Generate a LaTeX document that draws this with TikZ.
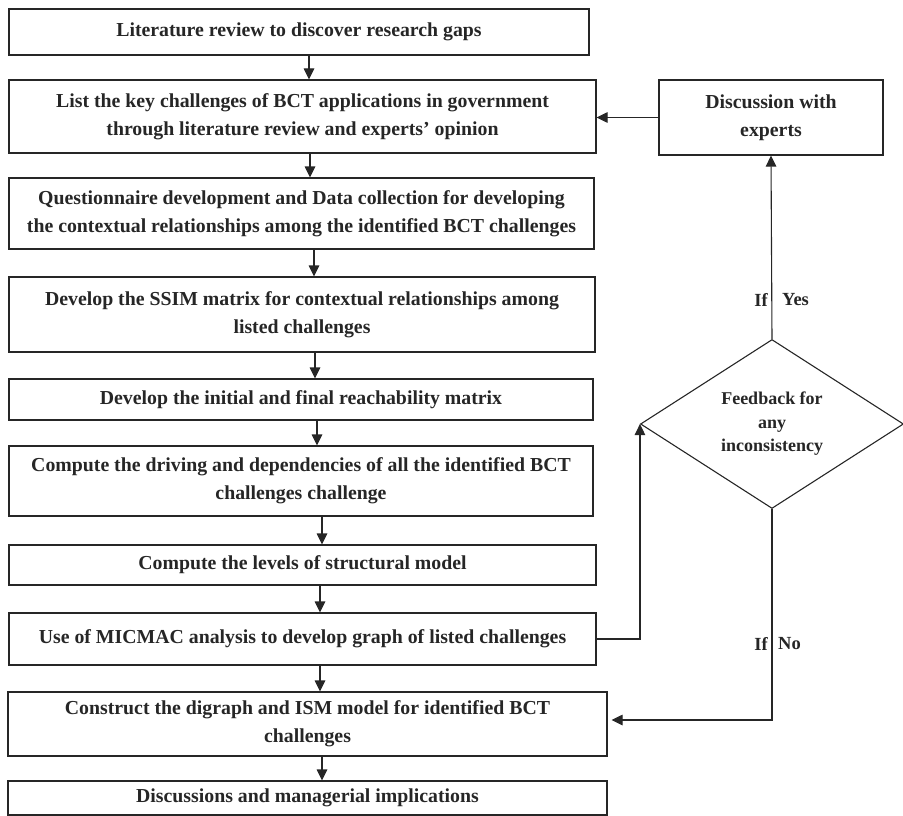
\documentclass[tikz,border=0pt]{standalone}
\usepackage{fontspec}
\setmainfont{Liberation Serif}
\usetikzlibrary{shapes.geometric,arrows.meta}
\definecolor{ink}{HTML}{262626}
\tikzset{
  box/.style={draw=ink, line width=1.1pt, rectangle, inner sep=0pt, align=center,
    text=ink, font=\fontsize{19.8}{28}\selectfont\bfseries},
  dia/.style={draw=ink, line width=1.1pt, diamond, inner sep=0pt, align=center,
    text=ink, font=\fontsize{18}{23.5}\selectfont\bfseries},
  lbl/.style={text=ink, font=\fontsize{18.5}{22}\selectfont\bfseries, inner sep=0pt},
  arr/.style={draw=ink, line width=1.1pt, -{Triangle[length=11pt,width=10.5pt]}},
  ln/.style={draw=ink, line width=1.1pt}
}
\begin{document}
\begin{tikzpicture}[x=1pt,y=-1pt]
\useasboundingbox (0,0) rectangle (903,816);
\node[box, minimum width=580pt, minimum height=46pt] (b1) at (299,32) {Literature review to discover research gaps};
\node[box, minimum width=587pt, minimum height=73pt] (b2) at (302.5,116.5) {List the key challenges of BCT applications in government\\through literature review and experts’ opinion};
\node[box, minimum width=585pt, minimum height=71pt] (b3) at (301.5,213.5) {Questionnaire development and Data collection for developing\\the contextual relationships among the identified BCT challenges};
\node[box, minimum width=586pt, minimum height=75pt] (b4) at (302,314.5) {Develop the SSIM matrix for contextual relationships among\\listed challenges};
\node[box, minimum width=584pt, minimum height=41pt] (b5) at (301,399.5) {Develop the initial and final reachability matrix};
\node[box, minimum width=584pt, minimum height=70pt] (b6) at (301,481) {Compute the driving and dependencies of all the identified BCT\\challenges challenge};
\node[box, minimum width=587pt, minimum height=40pt] (b7) at (302.5,565) {Compute the levels of structural model};
\node[box, minimum width=587pt, minimum height=52pt] (b8) at (302.5,639) {Use of MICMAC analysis to develop graph of listed challenges};
\node[box, minimum width=599pt, minimum height=64pt] (b9) at (307.5,724) {Construct the digraph and ISM model for identified BCT\\challenges};
\node[box, minimum width=599pt, minimum height=34pt] (b10) at (307.5,798) {Discussions and managerial implications};
\node[box, minimum width=224pt, minimum height=75pt] (disc) at (771,117.5) {Discussion with\\experts};
\node[dia, minimum width=263pt, minimum height=169pt, aspect=1.556] (fb) at (772,424) {Feedback for\\any\\inconsistency};

\coordinate (c12) at (309,0);
\coordinate (c23) at (310,0);
\coordinate (c34) at (314,0);
\coordinate (c45) at (315,0);
\coordinate (c56) at (317,0);
\coordinate (c67) at (322,0);
\coordinate (c78) at (320,0);
\coordinate (c89) at (320,0);
\coordinate (c910) at (322,0);
\draw[arr] (b1.south -| c12) -- (b2.north -| c12);
\draw[arr] (b2.south -| c23) -- (b3.north -| c23);
\draw[arr] (b3.south -| c34) -- (b4.north -| c34);
\draw[arr] (b4.south -| c45) -- (b5.north -| c45);
\draw[arr] (b5.south -| c56) -- (b6.north -| c56);
\draw[arr] (b6.south -| c67) -- (b7.north -| c67);
\draw[arr] (b7.south -| c78) -- (b8.north -| c78);
\draw[arr] (b8.south -| c89) -- (b9.north -| c89);
\draw[arr] (b9.south -| c910) -- (b10.north -| c910);

\draw[arr] (b8.east) -| (fb.west);
\draw[arr] (fb.north) -- (disc.south);
\draw[arr] (disc.west) -- (b2.east |- disc.west);
\draw[arr, shorten >=4pt] (fb.south) |- ([yshift=4pt]b9.east);

\node[lbl, anchor=east] (ify) at (768,300) {If};
\node[lbl, anchor=west] (yes) at (782,300) {Yes};
\node[lbl, anchor=east] (ifn) at (768,644) {If};
\node[lbl, anchor=west] (no) at (778,644) {No};
\end{tikzpicture}
\end{document}
